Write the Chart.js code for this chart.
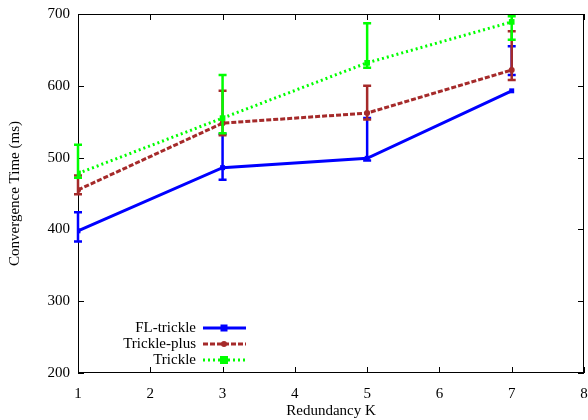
<!DOCTYPE html>
<html>
<head>
<meta charset="utf-8">
<script src="https://cdn.jsdelivr.net/npm/chart.js@4/dist/chart.umd.min.js"></script>
<style>
  html, body { margin: 0; padding: 0; background: #fff; }
  #wrap { width: 588px; height: 420px; }
</style>
</head>
<body>
<div id="wrap"><canvas id="myChart"></canvas></div>
<script>
const kValues = [1, 3, 5, 7];

const flTrickle = [398, 486, 499, 593];
const flTrickleLow = [383, 469, 496, 615];
const flTrickleHigh = [424, 533, 555, 655];

const tricklePlus = [455, 548, 562, 622];
const tricklePlusLow = [449, 531, 553, 608];
const tricklePlusHigh = [475, 593, 600, 676];

const trickle = [478, 555, 632, 689];
const trickleLow = [472, 534, 625, 664];
const trickleHigh = [518, 615, 687, 697];

const FONT = "Liberation Serif";

function pts(ys) {
  return kValues.map((k, i) => ({ x: k, y: ys[i] }));
}

const errBars = [
  { low: flTrickleLow, high: flTrickleHigh },
  { low: tricklePlusLow, high: tricklePlusHigh },
  { low: trickleLow, high: trickleHigh },
];

const gnuplotStyle = {
  id: "gnuplotStyle",
  beforeDatasetsDraw(chart) {
    const { ctx, chartArea: a, scales } = chart;
    ctx.save();
    ctx.strokeStyle = "#000";
    ctx.lineWidth = 1;
    ctx.strokeRect(a.left + 0.5, a.top + 0.5, a.right - a.left - 1, a.bottom - a.top - 1);
    ctx.beginPath();
    scales.x.ticks.forEach(t => {
      const px = Math.round(scales.x.getPixelForValue(t.value)) + 0.5;
      ctx.moveTo(px, a.bottom); ctx.lineTo(px, a.bottom - 6);
      ctx.moveTo(px, a.top); ctx.lineTo(px, a.top + 6);
    });
    scales.y.ticks.forEach(t => {
      const py = Math.round(scales.y.getPixelForValue(t.value)) + 0.5;
      ctx.moveTo(a.left, py); ctx.lineTo(a.left + 6, py);
      ctx.moveTo(a.right, py); ctx.lineTo(a.right - 6, py);
    });
    ctx.stroke();
    ctx.restore();
  },
  afterDatasetDraw(chart, args) {
    const { ctx, scales } = chart;
    const ds = chart.data.datasets[args.index];
    const eb = errBars[args.index];
    ctx.save();
    ctx.strokeStyle = ds.borderColor;
    ctx.lineWidth = 2.5;
    ctx.setLineDash([]);
    args.meta.data.forEach((p, i) => {
      const y1 = scales.y.getPixelForValue(eb.low[i]);
      const y2 = scales.y.getPixelForValue(eb.high[i]);
      ctx.beginPath();
      ctx.moveTo(p.x, y1); ctx.lineTo(p.x, y2);
      ctx.moveTo(p.x - 4, y1); ctx.lineTo(p.x + 4, y1);
      ctx.moveTo(p.x - 4, y2); ctx.lineTo(p.x + 4, y2);
      ctx.stroke();
    });
    ctx.restore();
  },
  afterDraw(chart) {
    const { ctx } = chart;
    ctx.save();
    ctx.font = "15px '" + FONT + "'";
    ctx.textAlign = "right";
    ctx.textBaseline = "middle";
    chart.data.datasets.forEach((ds, i) => {
      const y = 328 + i * 16;
      ctx.fillStyle = "#000";
      ctx.fillText(ds.label, 196, y);
      ctx.strokeStyle = ds.borderColor;
      ctx.lineWidth = ds.borderWidth;
      ctx.setLineDash(ds.borderDash || []);
      ctx.beginPath();
      ctx.moveTo(203, y); ctx.lineTo(246, y);
      ctx.stroke();
      ctx.setLineDash([]);
      ctx.fillStyle = ds.pointBackgroundColor;
      const r = ds.pointRadius;
      if (ds.pointStyle === "circle") {
        ctx.beginPath(); ctx.arc(224, y, r, 0, Math.PI * 2); ctx.fill();
      } else {
        ctx.fillRect(224 - r, y - r, 2 * r, 2 * r);
      }
    });
    ctx.restore();
  }
};

const chart = document.getElementById("myChart");

const config01 = {
  type: "line",
  data: {
    datasets: [
      {
        label: "FL-trickle",
        data: pts(flTrickle),
        borderColor: "#0000ff",
        backgroundColor: "#0000ff",
        pointBackgroundColor: "#0000ff",
        pointBorderWidth: 0,
        borderWidth: 3,
        pointStyle: "rect",
        pointRadius: 3.5,
        order: 3,
      },
      {
        label: "Trickle-plus",
        data: pts(tricklePlus),
        borderColor: "#a52a2a",
        backgroundColor: "#a52a2a",
        pointBackgroundColor: "#a52a2a",
        pointBorderWidth: 0,
        borderWidth: 3,
        borderDash: [5, 2],
        pointStyle: "circle",
        pointRadius: 3,
        order: 2,
      },
      {
        label: "Trickle",
        data: pts(trickle),
        borderColor: "#00ff00",
        backgroundColor: "#00ff00",
        pointBackgroundColor: "#00ff00",
        pointBorderWidth: 0,
        borderWidth: 3,
        borderDash: [2, 3],
        pointStyle: "rect",
        pointRadius: 4,
        order: 1,
      },
    ],
  },
  options: {
    responsive: true,
    maintainAspectRatio: false,
    animation: false,
    layout: { padding: { top: 14, right: 4, left: 0, bottom: 0 } },
    plugins: {
      legend: { display: false },
      tooltip: { enabled: false },
      title: { display: false },
    },
    scales: {
      x: {
        type: "linear",
        min: 1,
        max: 8,
        grid: { display: false, drawTicks: false },
        border: { display: false },
        ticks: { stepSize: 1, color: "#000", padding: 12, font: { family: FONT, size: 15 } },
        title: { display: true, text: "Redundancy K", color: "#000", padding: { top: 2, bottom: 0 }, font: { family: FONT, size: 15 } },
        afterFit(scale) { scale.height = 47; scale.paddingLeft = 0; scale.paddingRight = 0; },
      },
      y: {
        min: 200,
        max: 700,
        grid: { display: false, drawTicks: false },
        border: { display: false },
        ticks: { stepSize: 100, color: "#000", padding: 8, font: { family: FONT, size: 15 } },
        title: { display: true, text: "Convergence Time (ms)", color: "#000", padding: { top: 6, bottom: 6 }, font: { family: FONT, size: 15 } },
        afterFit(scale) { scale.width = 78; scale.paddingTop = 0; scale.paddingBottom = 0; },
      },
    },
  },
  plugins: [gnuplotStyle],
};

const chart01 = new Chart(chart, config01);
</script>
</body>
</html>
